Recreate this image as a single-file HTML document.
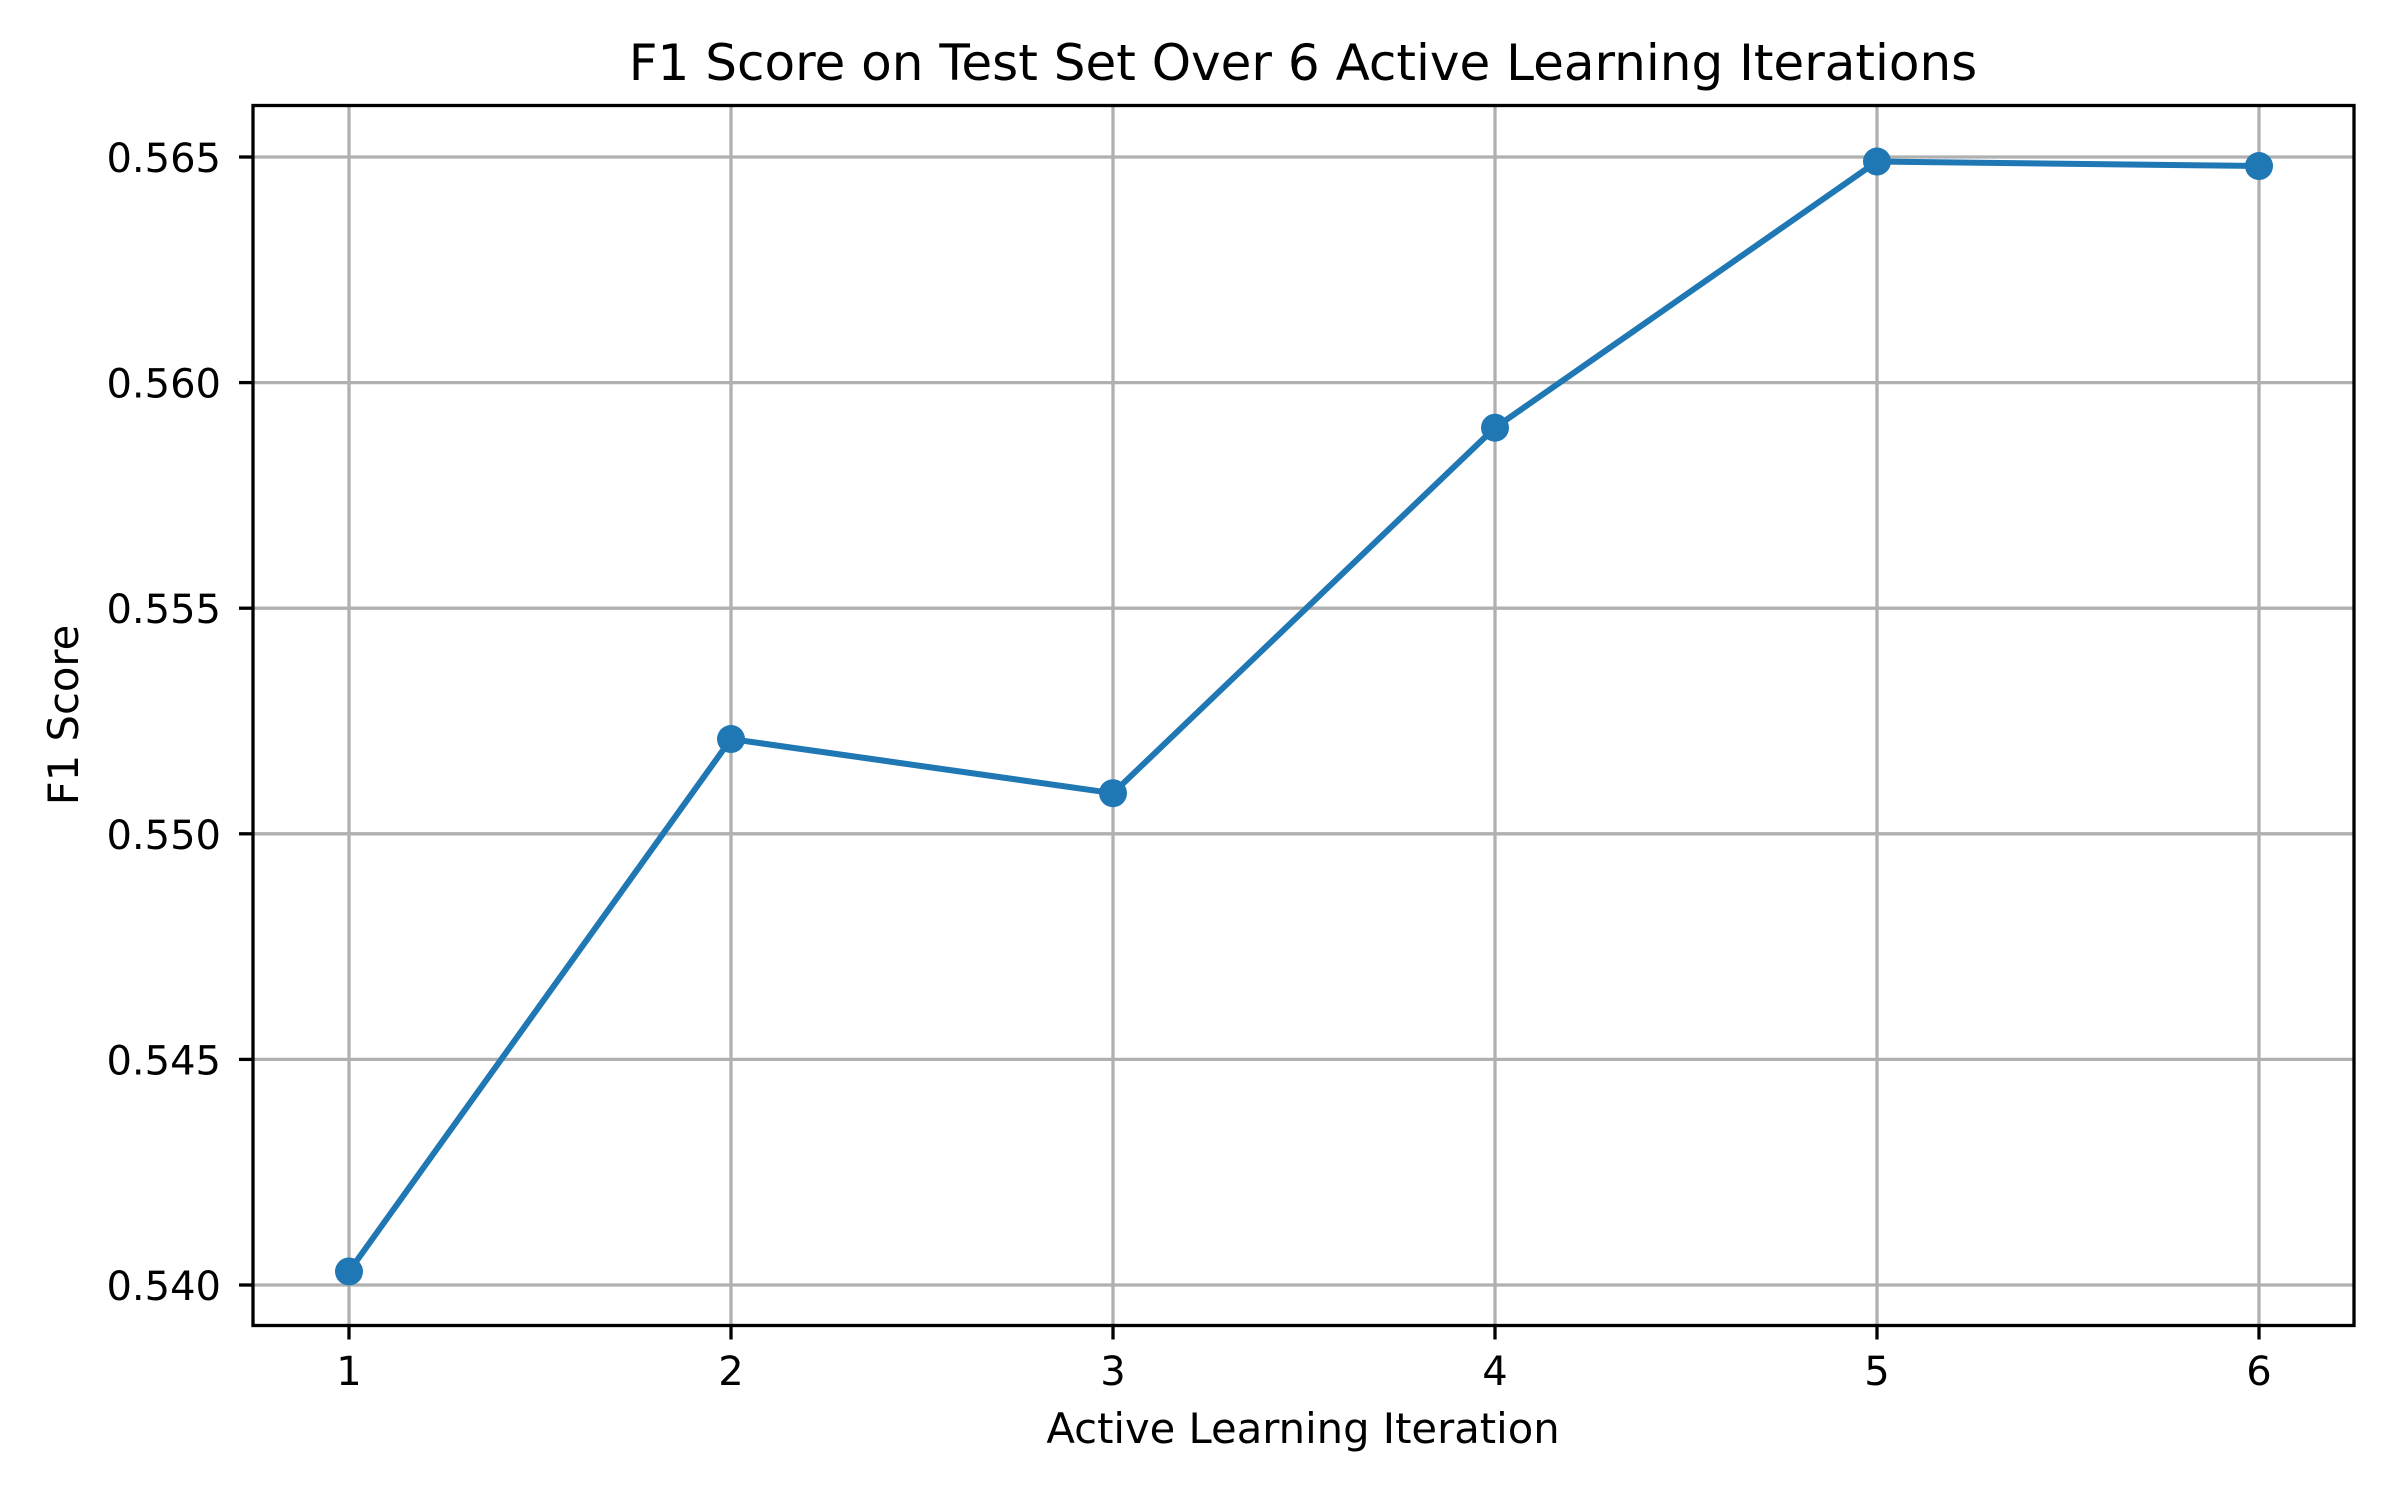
<!DOCTYPE html>
<html><head><meta charset="utf-8"><style>
html,body{margin:0;padding:0;background:#fff;}
svg{display:block;font-family:"DejaVu Sans","Liberation Sans",sans-serif;}
</style></head><body>
<svg id="chart" width="2400" height="1500" viewBox="0 0 2400 1500">
<rect width="2400" height="1500" fill="#fff"/>
<g id="grid"></g>
<g id="ticks"></g>
<g id="series"></g>
<rect x="253" y="105.5" width="2101" height="1220" fill="none" stroke="#000" stroke-width="3.3"/>
<text x="1303" y="80" font-size="50" text-anchor="middle">F1 Score on Test Set Over 6 Active Learning Iterations</text>
<text x="1303" y="1443" font-size="41.7" text-anchor="middle">Active Learning Iteration</text>
<text transform="translate(78,715) rotate(-90)" font-size="41.7" text-anchor="middle">F1 Score</text>
</svg>
<script>
const categories = [1, 2, 3, 4, 5, 6];
const f1Values = [0.5403, 0.5521, 0.5509, 0.5590, 0.5649, 0.5648];
const yTicks = [0.540, 0.545, 0.550, 0.555, 0.560, 0.565];
const yTickLabels = ["0.540", "0.545", "0.550", "0.555", "0.560", "0.565"];

const NS = "http://www.w3.org/2000/svg";
const L = 253, R = 2354, T = 105.5, B = 1325.5;
function xScale(v){ return 349 + (v - 1) * (2259 - 349) / 5; }
function yScale(v){ return 1285 - (v - 0.540) * (1285 - 157) / 0.025; }
function mk(tag, attrs, parent){
  const e = document.createElementNS(NS, tag);
  for (const k in attrs) e.setAttribute(k, attrs[k]);
  parent.appendChild(e);
  return e;
}
const grid = document.getElementById('grid');
const ticks = document.getElementById('ticks');
const series = document.getElementById('series');

categories.forEach(c => {
  const x = xScale(c);
  const g = mk('line', {x1:x, x2:x, y1:T, y2:B, stroke:'#b0b0b0', 'stroke-width':3.3}, grid);
  
  
  const t = mk('line', {x1:x, x2:x, y1:B, y2:B+14, stroke:'#000', 'stroke-width':3.3}, ticks);
  
  
  const lb = mk('text', {x:x, y:1385, 'font-size':40, 'text-anchor':'middle'}, ticks);
  lb.textContent = String(c);
  
  
});
yTicks.forEach((v, i) => {
  const y = yScale(v);
  const g = mk('line', {x1:L, x2:R, y1:y, y2:y, stroke:'#b0b0b0', 'stroke-width':3.3}, grid);
  
  
  const t = mk('line', {x1:L-14, x2:L, y1:y, y2:y, stroke:'#000', 'stroke-width':3.3}, ticks);
  
  
  const lb = mk('text', {x:221, y:y+15, 'font-size':40, 'text-anchor':'end'}, ticks);
  lb.textContent = yTickLabels[i];
  
  
});
const pts = categories.map((c, i) => xScale(c) + ',' + yScale(f1Values[i])).join(' ');
const line = mk('polyline', {points:pts, fill:'none', stroke:'#1f77b4', 'stroke-width':6, 'stroke-linejoin':'round', 'stroke-linecap':'square'}, series);


categories.forEach((c, i) => {
  const p = mk('circle', {cx:xScale(c), cy:yScale(f1Values[i]), r:14, fill:'#1f77b4'}, series);
  
  
});
</script>
</body></html>
